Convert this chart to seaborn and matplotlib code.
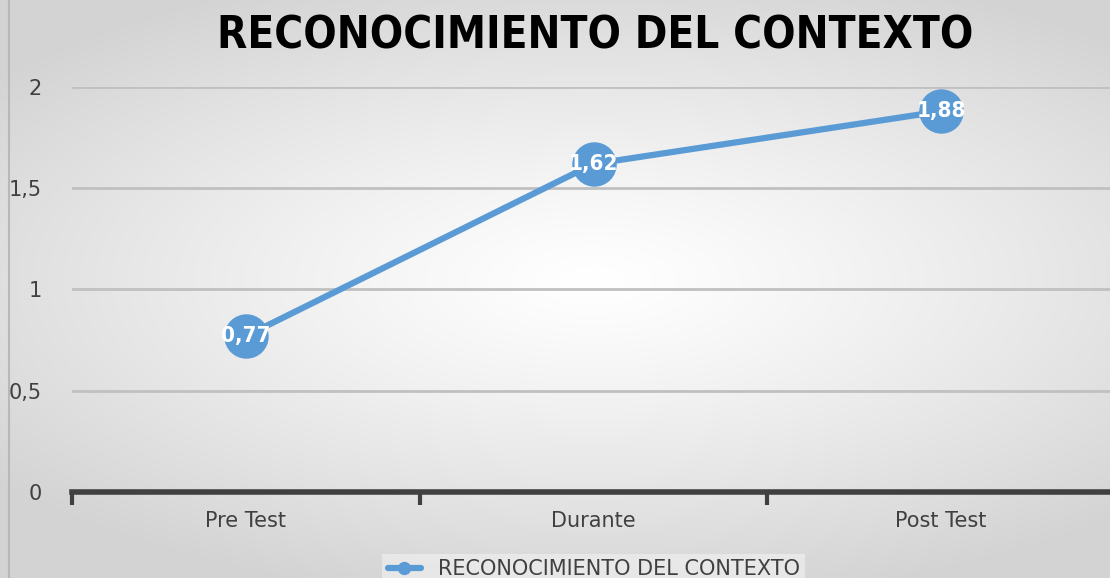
import numpy as np
import pandas as pd
import matplotlib
matplotlib.use("Agg")
import matplotlib.pyplot as plt
import seaborn as sns

categories = ["Pre Test", "Durante", "Post Test"]
values = [0.77, 1.62, 1.88]
labels = ["0,77", "1,62", "1,88"]
series_name = "RECONOCIMIENTO DEL CONTEXTO"
y_ticks = [0, 0.5, 1, 1.5, 2]
y_tick_labels = ["0", "0,5", "1", "1,5", "2"]

df = pd.DataFrame({"etapa": categories, "valor": values})

sns.set_style("white")
plt.rcParams["font.family"] = ["DejaVu Sans"]

blue = "#5B9BD5"
fig = plt.figure(figsize=(11.1, 5.78), dpi=100)

# radial gradient background
bg = fig.add_axes([0, 0, 1, 1], zorder=-1)
xx, yy = np.meshgrid(np.linspace(-1, 1, 600), np.linspace(-1, 1, 320))
r = np.sqrt(((xx - 0.07) / 1.1) ** 2 + ((yy + 0.03) / 0.9) ** 2)
shade = 1.0 - 0.17 * np.clip(r / 1.25, 0, 1) ** 1.2
bg.imshow(np.dstack([shade] * 3), aspect="auto", extent=[0, 1, 0, 1])
bg.axvline(0.008, color="#b8b8b8", lw=1.5)
bg.set_axis_off()

ax = fig.add_axes([0.0649, 0.1488, 0.9396, 0.7007])
ax.patch.set_alpha(0)
for y in y_ticks[1:]:
    ax.axhline(y, color="#c0c0c0", lw=2, zorder=1)

sns.lineplot(data=df, x="etapa", y="valor", ax=ax, color=blue, lw=4.5,
             marker="o", markersize=32, markeredgewidth=0, label=series_name,
             zorder=3, sort=False)
for i, (v, t) in enumerate(zip(values, labels)):
    ax.text(i, v, t, color="white", fontsize=16, fontweight="bold",
            fontstretch="condensed", ha="center", va="center", zorder=5)

ax.set_xlim(-0.5, 2.5)
ax.set_ylim(0, 2)
ax.set_yticks(y_ticks)
ax.set_yticklabels(y_tick_labels, fontsize=15, color="#404040")
ax.set_xticks(range(len(categories)))
ax.set_xticklabels(categories, fontsize=15, color="#404040")
ax.set_xticks([-0.5, 0.5, 1.5, 2.5], minor=True)
ax.tick_params(axis="x", which="major", bottom=False, length=0, pad=14)
ax.tick_params(axis="x", which="minor", bottom=True, length=9, width=3,
               color="#404040", direction="out")
ax.tick_params(axis="y", length=0, pad=22)
ax.set_xlabel("")
ax.set_ylabel("")
for s in ["top", "right", "left"]:
    ax.spines[s].set_visible(False)
ax.spines["bottom"].set_color("#404040")
ax.spines["bottom"].set_linewidth(4)
ax.spines["bottom"].set_zorder(4)

leg = ax.legend(loc="center", bbox_to_anchor=(0.5, -0.19), frameon=True,
                fontsize=15, markerscale=0.3, handlelength=1.6, borderpad=0.25,
                labelcolor="#404040")
leg.get_frame().set_facecolor("#ececec")
leg.get_frame().set_edgecolor("none")
leg.get_frame().set_boxstyle("square", pad=0)

fig.text(0.536, 0.938, "RECONOCIMIENTO DEL CONTEXTO", ha="center", va="center",
         fontsize=31.5, fontweight="bold", fontstretch="condensed", color="black")

fig.savefig("out.png", dpi=100)
